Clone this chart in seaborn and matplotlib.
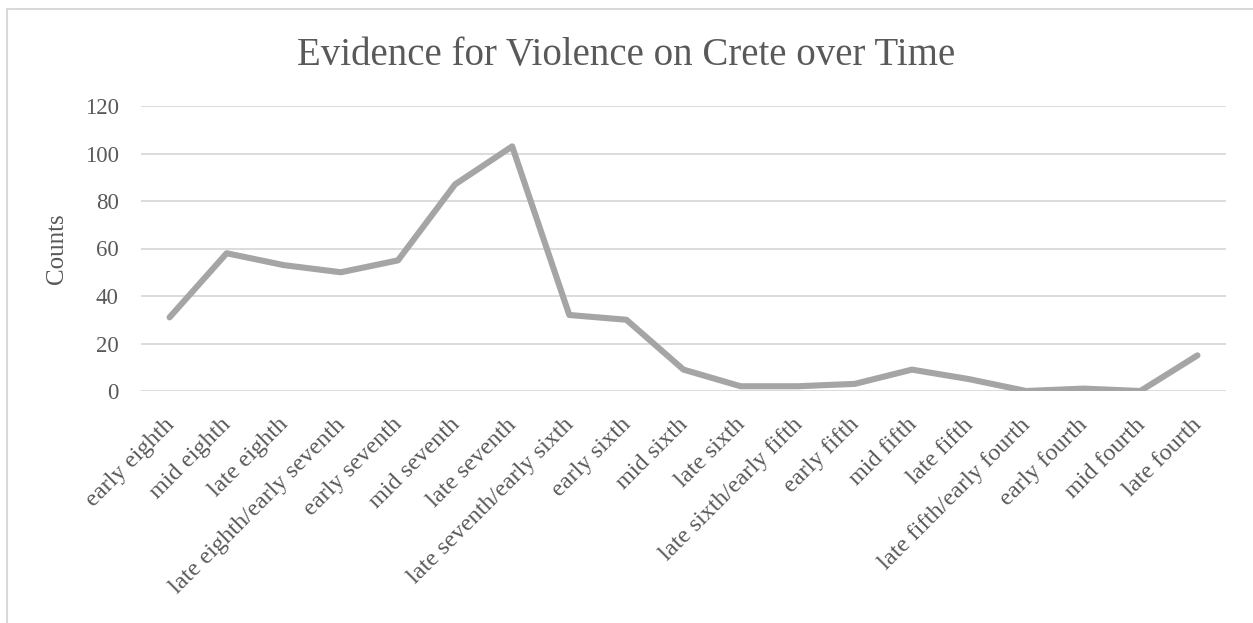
import matplotlib
matplotlib.use("Agg")
import matplotlib.pyplot as plt
import matplotlib.transforms as mtransforms
import seaborn as sns
import pandas as pd
from matplotlib.patches import Rectangle

periods = [
    "early eighth", "mid eighth", "late eighth", "late eighth/early seventh",
    "early seventh", "mid seventh", "late seventh", "late seventh/early sixth",
    "early sixth", "mid sixth", "late sixth", "late sixth/early fifth",
    "early fifth", "mid fifth", "late fifth", "late fifth/early fourth",
    "early fourth", "mid fourth", "late fourth",
]
counts = [31, 58, 53, 50, 55, 87, 103, 32, 30, 9, 2, 2, 3, 9, 5, 0, 1, 0, 15]
y_ticks = [0, 20, 40, 60, 80, 100, 120]

title = "Evidence for Violence on Crete over Time"
y_label = "Counts"

TEXT = "#595959"
GRID = "#D9D9D9"
LINE = "#A5A5A5"
SERIF = ["Liberation Serif", "DejaVu Serif"]

sns.set_theme(style="white")
plt.rcParams["font.family"] = SERIF

df = pd.DataFrame({"pos": range(len(periods)), "period": periods, "count": counts})

fig = plt.figure(figsize=(12.53, 6.23), dpi=100)
ax = fig.add_axes([141 / 1253, (623 - 391) / 623, 1085 / 1253, 285 / 623])

sns.lineplot(data=df, x="pos", y="count", ax=ax, color=LINE, linewidth=4.4,
             solid_joinstyle="round", solid_capstyle="round", zorder=3)

ax.set_xlim(-0.5, len(periods) - 0.5)
ax.set_ylim(0, 120)
ax.set_yticks(y_ticks)
ax.set_yticklabels([str(v) for v in y_ticks])
ax.set_xticks(range(len(periods)))
ax.set_xticklabels(periods, rotation=45, ha="right", va="top",
                   rotation_mode="anchor")

ax.yaxis.grid(True, color=GRID, linewidth=1.3, zorder=0)
ax.xaxis.grid(False)
for s in ax.spines.values():
    s.set_visible(False)
ax.tick_params(axis="y", length=0, colors=TEXT, labelsize=16.5, pad=16)
ax.tick_params(axis="x", length=0, colors=TEXT, labelsize=17.5, pad=16)

# nudge the slanted category labels a little to the left
nudge = mtransforms.ScaledTranslation(-6 / 100, -1 / 100, fig.dpi_scale_trans)
for tick in ax.xaxis.get_major_ticks():
    tick.label1.set_transform(tick.label1.get_transform() + nudge)

ax.set_xlabel("")
ax.set_ylabel(y_label, fontsize=18, color=TEXT, labelpad=12)

fig.text(0.5, 1 - 55 / 623, title, ha="center", va="center",
         fontsize=28, color=TEXT)

# Chart-area frame
fig.patches.append(Rectangle((7 / 1253, -0.05), 1.2, (623 - 9) / 623 + 0.05,
                             transform=fig.transFigure, fill=False,
                             edgecolor=GRID, linewidth=1.5))

fig.savefig("out.png", dpi=100, facecolor="white")
